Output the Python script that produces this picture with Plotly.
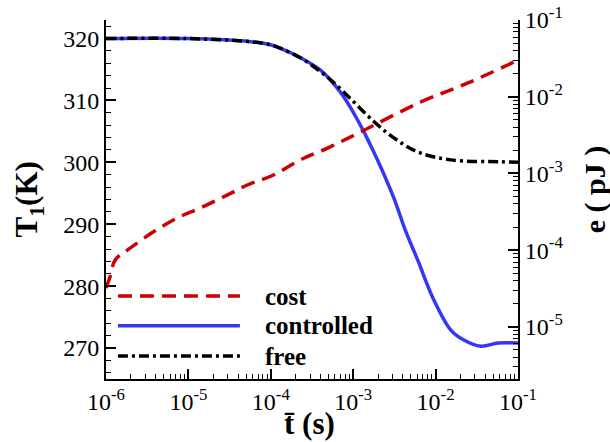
import plotly.graph_objects as go

# ---- data ----
t_cost = [1.0e-6, 1.12e-6, 1.29e-6, 1.96e-6, 3.73e-6, 7.3e-6, 1.39e-5, 2.65e-5, 5.19e-5,
          1.08e-4, 2.29e-4, 4.89e-4, 1.23e-3, 6.61e-3, 2.47e-2, 1.0e-1]
e_cost = [3.2e-5, 4.5e-5, 7.4e-5, 1.06e-4, 1.72e-4, 2.62e-4, 3.54e-4, 4.92e-4, 7.06e-4,
          9.53e-4, 1.50e-3, 2.14e-3, 3.47e-3, 8.53e-3, 1.51e-2, 3.0e-2]

t_ctrl = [1.0e-6, 1.0e-5, 5.65e-5, 9.9e-5, 1.32e-4, 2.29e-4, 4.01e-4, 7.03e-4, 1.01e-3,
          1.34e-3, 1.77e-3, 2.15e-3, 3.10e-3, 4.36e-3, 6.07e-3, 9.5e-3, 1.53e-2, 2.2e-2,
          3.55e-2, 5.7e-2, 1.0e-1]
T_ctrl = [320.0, 320.0, 319.5, 319.0, 318.4, 316.9, 314.9, 311.3, 308.0,
          305.0, 301.7, 299.3, 294.3, 288.8, 284.2, 277.8, 272.9, 271.3,
          270.3, 270.8, 270.8]

t_free = [1.0e-6, 1.0e-5, 5.65e-5, 9.9e-5, 1.32e-4, 2.29e-4, 3.7e-4, 5.8e-4, 1.01e-3, 1.78e-3,
          3.09e-3, 6.0e-3, 1.53e-2, 6.2e-2, 1.0e-1]
T_free = [320.0, 320.0, 319.5, 319.0, 318.4, 316.9, 315.0, 312.9, 309.8, 306.6,
          304.0, 301.7, 300.4, 300.1, 300.0]

x_ticks = [1e-6, 1e-5, 1e-4, 1e-3, 1e-2, 1e-1]
x_ticklabels = ["10<sup>-6</sup>", "10<sup>-5</sup>", "10<sup>-4</sup>",
                "10<sup>-3</sup>", "10<sup>-2</sup>", "10<sup>-1</sup>"]
T_ticks = [270, 280, 290, 300, 310, 320]
e_ticks = [1e-5, 1e-4, 1e-3, 1e-2, 1e-1]
e_ticklabels = ["10<sup>-5</sup>", "10<sup>-4</sup>", "10<sup>-3</sup>",
                "10<sup>-2</sup>", "10<sup>-1</sup>"]

legend_names = ["cost", "controlled", "free"]

RED = "#cc0000"
BLUE = "#3636f5"
BLACK = "#000000"
FONT = "Liberation Serif"
RED_DASH = "14px,8px"
FREE_DASH = "10px,4px,3px,4px"

fig = go.Figure()
fig.add_trace(go.Scatter(x=t_cost, y=e_cost, yaxis="y2", mode="lines",
                         line=dict(color=RED, width=3.5, dash=RED_DASH, shape="spline"),
                         name=legend_names[0], showlegend=False))
fig.add_trace(go.Scatter(x=t_ctrl, y=T_ctrl, mode="lines",
                         line=dict(color=BLUE, width=3.5, shape="spline"),
                         name=legend_names[1], showlegend=False))
fig.add_trace(go.Scatter(x=t_free, y=T_free, mode="lines",
                         line=dict(color=BLACK, width=3.5, dash=FREE_DASH, shape="spline"),
                         name=legend_names[2], showlegend=False))

tickfont = dict(family=FONT, size=24, color="black")
fig.update_layout(
    width=610, height=442,
    margin=dict(l=106, r=92, t=20, b=63, autoexpand=False),
    paper_bgcolor="white", plot_bgcolor="white",
    showlegend=False,
    xaxis=dict(type="log", range=[-6, -1], tickmode="array", tickvals=x_ticks,
               ticktext=x_ticklabels, ticks="inside", ticklen=10, tickwidth=2,
               tickcolor="black", showline=True, linewidth=2, linecolor="black",
               showgrid=False, zeroline=False, tickfont=tickfont, automargin=False,
               minor=dict(ticks="inside", ticklen=5, tickwidth=1, tickcolor="black",
                          dtick="D1", showgrid=False)),
    yaxis=dict(range=[265, 323], tickmode="array", tickvals=T_ticks,
               ticks="inside", ticklen=10, tickwidth=2, tickcolor="black",
               showline=True, linewidth=2, linecolor="black", showgrid=False,
               zeroline=False, tickfont=tickfont, automargin=False,
               minor=dict(ticks="inside", ticklen=5, tickwidth=1, tickcolor="black",
                          dtick=2, showgrid=False)),
    yaxis2=dict(type="log", range=[-5.68, -1], overlaying="y", side="right",
                tickmode="array", tickvals=e_ticks, ticktext=e_ticklabels,
                ticks="inside", ticklen=10, tickwidth=2, tickcolor="black",
                showline=True, linewidth=2, linecolor="black", showgrid=False,
                zeroline=False, tickfont=tickfont, automargin=False,
                minor=dict(ticks="inside", ticklen=5, tickwidth=1, tickcolor="black",
                           dtick="D1", showgrid=False)),
)

# legend drawn manually (long line samples)
leg_y = [0.231, 0.148, 0.064]
leg_styles = [(RED, RED_DASH), (BLUE, "solid"), (BLACK, FREE_DASH)]
for name, yy, (col, dsh) in zip(legend_names, leg_y, leg_styles):
    fig.add_shape(type="line", xref="paper", yref="paper", x0=0.029, x1=0.325,
                  y0=yy, y1=yy, line=dict(color=col, width=3.5, dash=dsh))
    fig.add_annotation(xref="paper", yref="paper", x=0.381, y=yy, xanchor="left",
                       yanchor="middle", showarrow=False, text="<b>%s</b>" % name,
                       font=dict(family=FONT, size=25, color="black"))

titlefont = dict(family=FONT, size=31, color="black")
fig.add_annotation(xref="paper", yref="paper", x=-0.187, y=0.5, textangle=-90,
                   showarrow=False, text="<b>T<sub>1</sub>(K)</b>", font=titlefont,
                   xanchor="center", yanchor="middle")
fig.add_annotation(xref="paper", yref="paper", x=1.187, y=0.526, textangle=-90,
                   showarrow=False, text="<b>e ( pJ )</b>",
                   font=dict(family=FONT, size=30, color="black"),
                   xanchor="center", yanchor="middle")
fig.add_annotation(xref="paper", yref="paper", x=0.495, y=-0.1226,
                   showarrow=False, text="<b>t\u0304 (s)</b>", font=titlefont,
                   xanchor="center", yanchor="middle")

fig.write_html("out.html", config={"displayModeBar": False},
               post_script="document.body.style.margin='0px';document.body.style.overflow='hidden';")
